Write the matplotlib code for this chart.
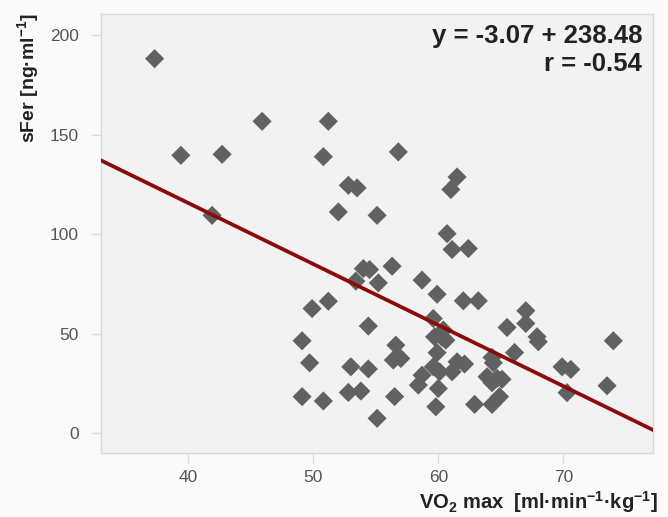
import matplotlib
matplotlib.use("Agg")
import matplotlib.pyplot as plt
import numpy as np

# VO2 max [ml/min/kg] vs serum ferritin [ng/ml]
vo2max = [
    37.3, 39.4, 42.7, 45.9, 51.2, 50.8, 56.8, 52.8, 53.5, 52.0, 55.1, 41.9,
    61.5, 61.0, 60.7, 61.1, 62.4, 54.0, 54.5, 56.3, 53.4, 55.2, 58.7, 59.9,
    62.0, 63.2, 51.2, 49.9, 67.0, 67.0, 59.6, 65.5, 54.4, 60.4, 59.7, 60.3,
    60.6, 67.9, 68.0, 74.0, 49.1, 56.6, 66.1, 59.9, 64.3, 64.4, 56.4, 57.0,
    49.7, 53.0, 54.4, 59.6, 60.1, 61.5, 62.1, 61.1, 69.9, 70.6, 58.7, 58.4,
    63.9, 64.7, 65.1, 64.3, 60.0, 73.5, 56.5, 52.8, 53.8, 49.1, 50.8, 70.3,
    64.9, 59.8, 62.9, 64.3, 55.1,
]
sfer = [
    188.3, 139.7, 140.2, 156.8, 156.8, 139.0, 141.4, 124.6, 123.3, 111.2, 109.5, 109.5,
    128.8, 122.5, 100.3, 92.3, 92.8, 82.7, 82.2, 83.9, 76.4, 75.5, 76.9, 69.8,
    66.5, 66.5, 66.3, 62.6, 61.5, 55.1, 57.6, 53.1, 53.8, 51.8, 48.4, 48.1,
    46.7, 48.4, 45.9, 46.4, 46.4, 44.2, 40.5, 40.4, 38.0, 35.3, 36.7, 37.5,
    35.3, 33.3, 32.2, 33.3, 30.8, 35.8, 34.7, 30.8, 33.3, 32.0, 29.1, 24.1,
    28.3, 27.5, 27.0, 25.3, 22.4, 23.8, 18.3, 20.4, 21.1, 18.3, 16.1, 20.3,
    18.3, 13.2, 14.4, 14.4, 7.4,
]
slope = -3.07
intercept = 238.48
r_value = -0.54

plt.rcParams["font.family"] = ["Liberation Sans", "DejaVu Sans"]
plt.rcParams["mathtext.fontset"] = "custom"
plt.rcParams["mathtext.rm"] = "Liberation Sans:bold"
plt.rcParams["mathtext.it"] = "Liberation Sans:bold"
plt.rcParams["mathtext.bf"] = "Liberation Sans:bold"

fig = plt.figure(figsize=(6.68, 5.17), dpi=100, facecolor="#fafafa")
ax = fig.add_axes([0.151, 0.124, 0.827, 0.849])
ax.set_facecolor("#f2f2f2")

ax.scatter(vo2max, sfer, marker="D", s=95, color="#616161", edgecolors="none", zorder=3)

xlim = (33.0, 77.2)
xs = np.array(xlim)
ax.plot(xs, slope * xs + intercept, color="#8b0a0a", lw=2.7, zorder=4)

ax.set_xlim(*xlim)
ax.set_ylim(-10, 210.8)
ax.set_xticks([40, 50, 60, 70])
ax.set_yticks([0, 50, 100, 150, 200])

for s in ax.spines.values():
    s.set_color("#d9d9d9")
    s.set_linewidth(1.0)
ax.tick_params(colors="#dcdcdc", labelcolor="#555555", labelsize=12.5, length=7, width=1)
ax.tick_params(axis="x", pad=5)
ax.tick_params(axis="y", pad=9)

ax.text(0.980, 0.977, f"y = {slope:.2f} + {intercept:.2f}\nr = {r_value:.2f}",
        transform=ax.transAxes, ha="right", va="top", ma="right",
        fontsize=18.5, fontweight="bold", color="#222222", linespacing=1.2)

fig.text(0.042, 0.975, r"sFer [ng·ml$^{-1}$]", rotation=90, ha="center", va="top",
         fontsize=14, fontweight="bold", color="#222222")
fig.text(0.985, 0.004, r"VO$_{2}$ max  [ml·min$^{-1}$·kg$^{-1}$]", ha="right", va="bottom",
         fontsize=14.5, fontweight="bold", color="#222222")

fig.savefig("out.png", dpi=100, facecolor=fig.get_facecolor())
